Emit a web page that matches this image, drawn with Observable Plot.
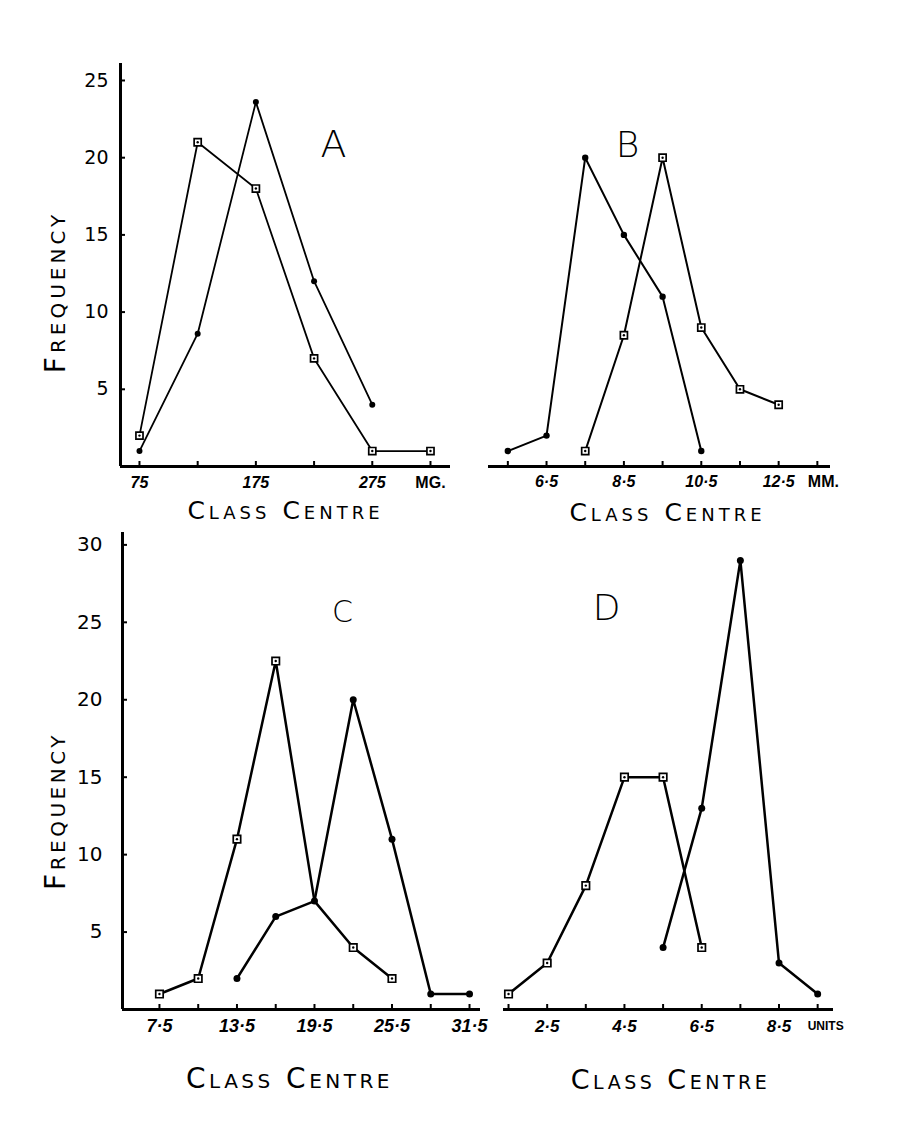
<!DOCTYPE html>
<html>
<head>
<meta charset="utf-8">
<script src="https://cdn.jsdelivr.net/npm/d3@7"></script>
<script src="https://cdn.jsdelivr.net/npm/@observablehq/plot@0.6"></script>
<style>
  body { margin: 0; background: #fff; }
  #page { position: relative; width: 897px; height: 1123px; overflow: hidden; background: #fff; }
  #page svg { position: absolute; overflow: visible; background: transparent !important; }
</style>
</head>
<body>
<div id="page"></div>
<script>
// ---------- Panel A (MG.) ----------
const aClasses = [75, 125, 175, 225, 275, 325];
const aDots    = [1, 8.6, 23.6, 12, 4, null];
const aSquares = [2, 21, 18, 7, 1, 1];
const aTicks = [75, 125, 175, 225, 275, 325];
const aLabelAt = [75, 175, 275];
const aLabels = ["75", "175", "275"];
const aUnitAt = 325;
const aUnit = "MG.";

// ---------- Panel B (MM.) ----------
const bClasses = [5.5, 6.5, 7.5, 8.5, 9.5, 10.5, 11.5, 12.5];
const bDots    = [1, 2, 20, 15, 11, 1, null, null];
const bSquares = [null, null, 1, 8.5, 20, 9, 5, 4];
const bTicks = [5.5, 6.5, 7.5, 8.5, 9.5, 10.5, 11.5, 12.5, 13.5];
const bLabelAt = [6.5, 8.5, 10.5, 12.5];
const bLabels = ["6·5", "8·5", "10·5", "12·5"];
const bUnitAt = 13.5;
const bUnit = "MM.";

// ---------- Panel C ----------
const cClasses = [7.5, 10.5, 13.5, 16.5, 19.5, 22.5, 25.5, 28.5, 31.5];
const cDots    = [null, null, 2, 6, 7, 20, 11, 1, 1];
const cSquares = [1, 2, 11, 22.5, 7, 4, 2, null, null];
const cTicks = [7.5, 10.5, 13.5, 16.5, 19.5, 22.5, 25.5, 28.5, 31.5];
const cLabelAt = [7.5, 13.5, 19.5, 25.5, 31.5];
const cLabels = ["7·5", "13·5", "19·5", "25·5", "31·5"];

// ---------- Panel D (UNITS) ----------
const dClasses = [1.5, 2.5, 3.5, 4.5, 5.5, 6.5, 7.5, 8.5, 9.5];
const dDots    = [null, null, null, null, 4, 13, 29, 3, 1];
const dSquares = [1, 3, 8, 15, 15, 4, null, null, null];
const dTicks = [1.5, 2.5, 3.5, 4.5, 5.5, 6.5, 7.5, 8.5, 9.5];
const dLabelAt = [2.5, 4.5, 6.5, 8.5];
const dLabels = ["2·5", "4·5", "6·5", "8·5"];
const dUnitAt = 9.5;
const dUnit = "UNITS";

// ---------- shared ----------
const yTicksTop = [5, 10, 15, 20, 25];
const yTicksBottom = [5, 10, 15, 20, 25, 30];
const yTitle = "Frequency";
const xTitle = "Class Centre";

const FONT = "'DejaVu Sans', 'Noto Sans', sans-serif";
const TICKFONT = "'Liberation Sans', Arial, sans-serif";

function panel(p) {
  const [fx0, fx1, fy0, fy1] = p.frame;
  const [xmin, xmax] = p.xDomain;
  const [ymin, ymax] = p.yDomain;
  const pxPerY = (fy1 - fy0) / (ymax - ymin);
  const pxPerX = (fx1 - fx0) / (xmax - xmin);
  const rows = p.classes.map((x, i) => ({x, dot: p.dots[i], sq: p.squares[i]}));
  const dotRows = rows.filter(d => d.dot != null);
  const sqRows = rows.filter(d => d.sq != null);
  const sqMarkers = sqRows.filter(d => d.dot !== d.sq);
  const labels = p.labelAt.map((x, i) => ({x, t: p.labels[i]}));

  const marks = [
    Plot.ruleY([0], {stroke: "#000", strokeWidth: 3}),
    Plot.ruleX(p.xTicks, {x: d => d, y1: () => 0, y2: () => 5 / pxPerY, stroke: "#000", strokeWidth: 2}),
    Plot.text(labels, {x: "x", y: () => 0, text: "t", dy: p.xLabelDy, lineAnchor: "middle",
      fontFamily: TICKFONT, fontWeight: "bold", fontStyle: "italic", fontSize: p.xLabelSize, fill: "#000"}),
    Plot.text([xTitle], {frameAnchor: "bottom", dx: p.titleDx, dy: p.titleDy, lineAnchor: "middle",
      fontFamily: FONT, fontVariant: "small-caps", fontSize: p.titleSize, fill: "#000"}),
    Plot.text([p.letter], {frameAnchor: "top-left", dx: p.letterPos[0], dy: p.letterPos[1],
      textAnchor: "middle", lineAnchor: "middle", fontFamily: FONT, fontWeight: 200, fontSize: p.letterSize, fill: "#000"})
  ];
  if (p.unit) {
    marks.push(Plot.text([p.unit], {x: () => p.unitAt, y: () => 0, text: d => d, dx: p.unitDx, dy: p.xLabelDy,
      lineAnchor: "middle", fontFamily: TICKFONT, fontWeight: "bold", fontSize: p.unitSize, fill: "#000"}));
  }
  if (p.yTicks) {
    marks.push(
      Plot.ruleX([xmin], {stroke: "#000", strokeWidth: 3}),
      Plot.ruleY(p.yTicks, {y: d => d, x1: () => xmin, x2: () => xmin + 5 / pxPerX, stroke: "#000", strokeWidth: 2}),
      Plot.text(p.yTicks, {x: () => xmin, y: d => d, text: d => String(d), textAnchor: "end", dx: p.yLabelDx,
        lineAnchor: "middle", fontFamily: FONT, fontWeight: 400, fontSize: p.yLabelSize, fill: "#000"}),
      Plot.text([yTitle], {frameAnchor: "left", rotate: -90, dx: p.yTitlePos[0], dy: p.yTitlePos[1],
        textAnchor: "middle", lineAnchor: "middle", fontFamily: FONT, fontWeight: 400,
        fontVariant: "small-caps", fontSize: p.yTitleSize, fill: "#000"})
    );
  }
  marks.push(
    Plot.line(sqRows, {x: "x", y: "sq", stroke: "#000", strokeWidth: p.lineWidth}),
    Plot.line(dotRows, {x: "x", y: "dot", stroke: "#000", strokeWidth: p.lineWidth}),
    Plot.dot(sqMarkers, {x: "x", y: "sq", symbol: "square", r: p.sqR, fill: "#fff", stroke: "#000", strokeWidth: 1.7}),
    Plot.dot(sqMarkers, {x: "x", y: "sq", r: 1.2, fill: "#000"}),
    Plot.dot(dotRows, {x: "x", y: "dot", r: p.dotR, fill: "#000"})
  );

  const svg = Plot.plot({
    width: p.width,
    height: p.height,
    marginLeft: fx0 - p.left,
    marginRight: p.left + p.width - fx1,
    marginTop: fy0 - p.top,
    marginBottom: p.top + p.height - fy1,
    x: {domain: p.xDomain, axis: null},
    y: {domain: p.yDomain, axis: null},
    style: {fontFamily: FONT, background: "transparent", overflow: "visible", color: "#000"},
    marks
  });
  svg.style.left = p.left + "px";
  svg.style.top = p.top + "px";
  svg.querySelectorAll("text").forEach(t => {
    if (t.textContent === xTitle) t.setAttribute("letter-spacing", p.titleSpacing);
    if (t.textContent === yTitle) t.setAttribute("letter-spacing", p.yTitleSpacing);
  });
  document.getElementById("page").appendChild(svg);
}

panel({
  letter: "A", classes: aClasses, dots: aDots, squares: aSquares,
  xTicks: aTicks, labelAt: aLabelAt, labels: aLabels, unit: aUnit, unitAt: aUnitAt, unitDx: 0, unitSize: 16,
  left: 0, top: 0, width: 470, height: 540,
  frame: [120, 450, 63, 466], xDomain: [58.7, 342.2], yDomain: [0, 26.1],
  yTicks: yTicksTop, yLabelDx: -12, yLabelSize: 19, yTitlePos: [-64, 27], yTitleSize: 28, yTitleSpacing: 4,
  xLabelDy: 16, xLabelSize: 16, titleDx: 0, titleDy: 44, titleSize: 25, titleSpacing: 4,
  letterPos: [213, 81], letterSize: 38, lineWidth: 1.8, dotR: 3, sqR: 4
});
panel({
  letter: "B", classes: bClasses, dots: bDots, squares: bSquares,
  xTicks: bTicks, labelAt: bLabelAt, labels: bLabels, unit: bUnit, unitAt: bUnitAt, unitDx: 6, unitSize: 16,
  left: 460, top: 0, width: 437, height: 540,
  frame: [488, 830, 63, 466], xDomain: [5.0, 13.84], yDomain: [0, 26.1],
  xLabelDy: 15, xLabelSize: 16, titleDx: 8, titleDy: 46, titleSize: 25, titleSpacing: 4,
  letterPos: [139, 82], letterSize: 36, lineWidth: 2, dotR: 3.2, sqR: 4
});
panel({
  letter: "C", classes: cClasses, dots: cDots, squares: cSquares,
  xTicks: cTicks, labelAt: cLabelAt, labels: cLabels,
  left: 0, top: 520, width: 490, height: 603,
  frame: [122, 480, 532, 1009], xDomain: [4.64, 32.35], yDomain: [0, 30.8],
  yTicks: yTicksBottom, yLabelDx: -20, yLabelSize: 20, yTitlePos: [-66, 40], yTitleSize: 28, yTitleSpacing: 3.5,
  xLabelDy: 17, xLabelSize: 18, titleDx: -12, titleDy: 70, titleSize: 28, titleSpacing: 3.5,
  letterPos: [220, 80], letterSize: 30, lineWidth: 2.5, dotR: 3.5, sqR: 4.2
});
panel({
  letter: "D", classes: dClasses, dots: dDots, squares: dSquares,
  xTicks: dTicks, labelAt: dLabelAt, labels: dLabels, unit: dUnit, unitAt: dUnitAt, unitDx: 8, unitSize: 12,
  left: 480, top: 520, width: 417, height: 603,
  frame: [503, 833, 532, 1009], xDomain: [1.37, 9.91], yDomain: [0, 30.8],
  xLabelDy: 17, xLabelSize: 17, titleDx: 2, titleDy: 71, titleSize: 27, titleSpacing: 3.5,
  letterPos: [103, 76], letterSize: 36, lineWidth: 2.5, dotR: 3.5, sqR: 4.2
});
</script>
</body>
</html>
